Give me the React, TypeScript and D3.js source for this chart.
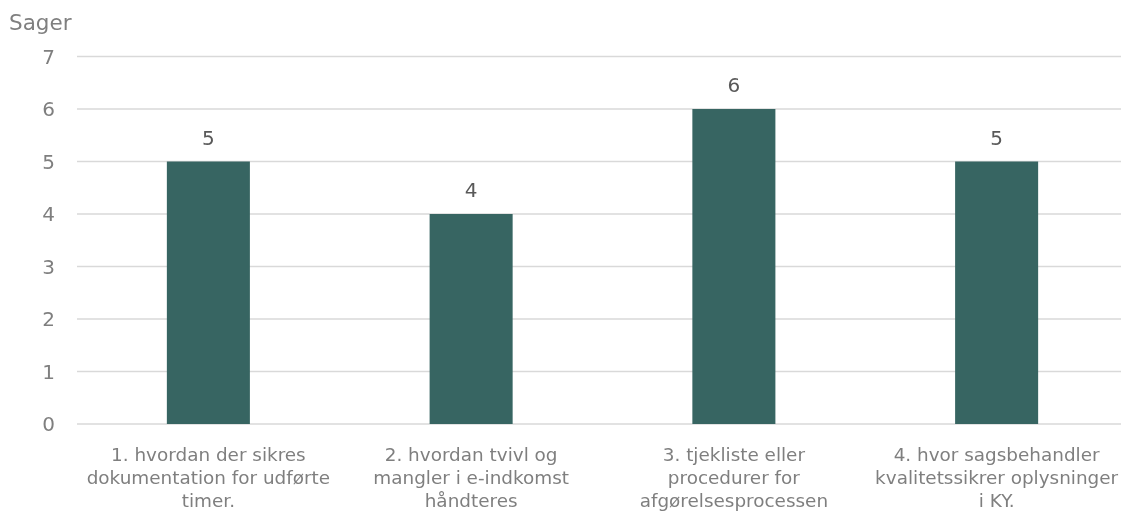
import { useEffect, useRef } from "react";
import * as d3 from "d3";

const categories = [
  ["1. hvordan der sikres", "dokumentation for udførte", "timer."],
  ["2. hvordan tvivl og", "mangler i e-indkomst", "håndteres"],
  ["3. tjekliste eller", "procedurer for", "afgørelsesprocessen"],
  ["4. hvor sagsbehandler", "kvalitetssikrer oplysninger", "i KY."],
];
const values = [5, 4, 6, 5];
const yTicks = [0, 1, 2, 3, 4, 5, 6, 7];
const yTitle = "Sager";

const width = 1121;
const height = 513;
const font = "'DejaVu Sans', sans-serif";

export default function App() {
  const svgRef = useRef<SVGSVGElement>(null);

  useEffect(() => {
    if (!svgRef.current) return;
    const svg = d3.select(svgRef.current);
    svg.selectAll("*").remove();

    const keys = categories.map((_, i) => String(i));
    const x = d3.scaleBand().domain(keys).range([77, 1128]).paddingInner(0.684).paddingOuter(0.342);
    const y = d3.scaleLinear().domain([0, 7]).range([424, 56.5]);

    // gridlines
    svg.append("g")
      .selectAll("line")
      .data(yTicks)
      .join("line")
      .attr("x1", 77)
      .attr("x2", width)
      .attr("y1", d => y(d))
      .attr("y2", d => y(d))
      .attr("stroke", "#d9d9d9")
      .attr("stroke-width", 1.3);

    // y tick labels
    svg.append("g")
      .selectAll("text")
      .data(yTicks)
      .join("text")
      .attr("x", 55)
      .attr("y", d => y(d))
      .attr("dy", "0.36em")
      .attr("text-anchor", "end")
      .attr("fill", "#7f7f7f")
      .attr("font-family", font)
      .attr("font-size", 20)
      .text(d => d);

    svg.append("text")
      .attr("x", 9)
      .attr("y", 30)
      .attr("fill", "#7f7f7f")
      .attr("font-family", font)
      .attr("font-size", 21.5)
      .text(yTitle);

    // bars
    svg.append("g")
      .selectAll("rect")
      .data(values)
      .join("rect")
      .attr("x", (_, i) => x(keys[i]) as number)
      .attr("width", x.bandwidth())
      .attr("y", d => y(d))
      .attr("height", d => y(0) - y(d))
      .attr("fill", "#376562");

    // value labels
    svg.append("g")
      .selectAll("text")
      .data(values)
      .join("text")
      .attr("x", (_, i) => (x(keys[i]) as number) + x.bandwidth() / 2)
      .attr("y", d => y(d) - 17)
      .attr("text-anchor", "middle")
      .attr("fill", "#595959")
      .attr("font-family", font)
      .attr("font-size", 20)
      .text(d => d);

    // category labels
    const cat = svg.append("g")
      .selectAll("text")
      .data(categories)
      .join("text")
      .attr("x", (_, i) => (x(keys[i]) as number) + x.bandwidth() / 2)
      .attr("y", 461)
      .attr("text-anchor", "middle")
      .attr("fill", "#7f7f7f")
      .attr("font-family", font)
      .attr("font-size", 18.4);

    cat.selectAll("tspan")
      .data(d => d)
      .join("tspan")
      .attr("x", function () {
        return (this.parentNode as SVGTextElement).getAttribute("x");
      })
      .attr("dy", (_, i) => (i === 0 ? 0 : 23))
      .text(d => d);
  }, []);

  return (
    <div style={{ position: "fixed", left: 0, top: 0 }}>
      <svg ref={svgRef} width={width} height={height} style={{ display: "block" }} />
    </div>
  );
}
